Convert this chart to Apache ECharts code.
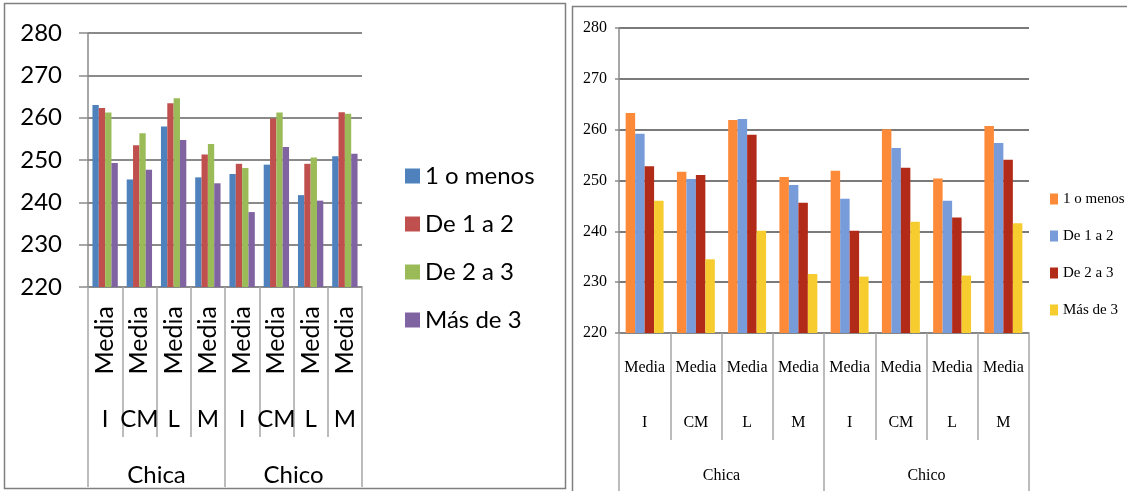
<!DOCTYPE html>
<html>
<head>
<meta charset="utf-8">
<style>
  html, body { margin: 0; padding: 0; background: #ffffff; }
  #chart { width: 1127px; height: 491px; }
</style>
<script src="https://cdn.jsdelivr.net/npm/echarts@6/dist/echarts.min.js"></script>
</head>
<body>
<div id="chart"></div>
<script>
// Category levels of the x axis (innermost first)
const measureLabels = ['Media', 'Media', 'Media', 'Media', 'Media', 'Media', 'Media', 'Media'];
const subjectLabels = ['I', 'CM', 'L', 'M', 'I', 'CM', 'L', 'M'];
const groupLabels = ['Chica', 'Chico'];

// Series names
const seriesNames = ['1 o menos', 'De 1 a 2', 'De 2 a 3', 'Más de 3'];

// Y axis
const yMin = 220;
const yMax = 280;
const yStep = 10;

// Left chart values
const leftUnoOMenos = [263.0, 245.4, 257.9, 245.9, 246.7, 248.9, 241.7, 250.9];
const leftDe1a2 = [262.3, 253.5, 263.4, 251.3, 249.1, 259.8, 249.1, 261.3];
const leftDe2a3 = [261.2, 256.3, 264.6, 253.8, 248.1, 261.2, 250.6, 260.9];
const leftMasDe3 = [249.3, 247.7, 254.7, 244.5, 237.7, 253.1, 240.4, 251.5];

// Right chart values
const rightUnoOMenos = [263.3, 251.7, 261.9, 250.7, 251.9, 260.1, 250.4, 260.7];
const rightDe1a2 = [259.2, 250.3, 262.1, 249.1, 246.4, 256.4, 246.0, 257.4];
const rightDe2a3 = [252.8, 251.1, 259.0, 245.6, 240.1, 252.5, 242.7, 254.1];
const rightMasDe3 = [246.0, 234.5, 240.1, 231.6, 231.1, 241.9, 231.3, 241.6];

const leftColors = ['#4f81bd', '#c0504d', '#9bbb59', '#8064a2'];
const rightColors = ['#fd8a38', '#789bd9', '#b22b18', '#f6cc2f'];

const leftFont = 'Lato, "Open Sans", sans-serif';
const rightFont = '"Liberation Serif", "DejaVu Serif", serif';
const gridColor = '#8a8a8a';
const sepColor = '#a6a6a6';

// Builds the three-level category x axes of one grid
function levelAxes(gridIndex, cfg) {
  return [
    {
      type: 'category', gridIndex, data: measureLabels, position: 'bottom',
      axisLine: { show: true, lineStyle: { color: gridColor, width: 1.5 } },
      axisTick: { show: true, length: cfg.innerTick, lineStyle: { color: sepColor, width: 1.5 } },
      axisLabel: {
        interval: 0, rotate: cfg.rotate, margin: cfg.m1,
        fontFamily: cfg.font, fontSize: cfg.size1, color: '#000'
      }
    },
    {
      type: 'category', gridIndex, data: subjectLabels, position: 'bottom',
      axisLine: { show: false }, axisTick: { show: false },
      axisLabel: { interval: 0, margin: cfg.m2, fontFamily: cfg.font, fontSize: cfg.size, color: '#000' }
    },
    {
      type: 'category', gridIndex, data: groupLabels, position: 'bottom',
      axisLine: { show: false },
      axisTick: { show: true, length: cfg.outerTick, lineStyle: { color: sepColor, width: 1.5 } },
      axisLabel: { interval: 0, margin: cfg.m3, fontFamily: cfg.font, fontSize: cfg.size, color: '#000' }
    }
  ];
}

function valueAxis(gridIndex, cfg) {
  return {
    type: 'value', gridIndex, min: yMin, max: yMax, interval: yStep,
    axisLine: { show: true, lineStyle: { color: gridColor, width: 1.5 } },
    axisTick: { show: true, length: cfg.tick, lineStyle: { color: gridColor, width: 1.5 } },
    splitLine: { show: true, lineStyle: { color: cfg.split, width: 1.8 } },
    axisLabel: { margin: cfg.margin, fontFamily: cfg.font, fontSize: cfg.size, color: '#000' }
  };
}

function barSeries(name, data, color, xAxisIndex, yAxisIndex) {
  return {
    type: 'bar', name, data, xAxisIndex, yAxisIndex,
    barGap: '0%', barCategoryGap: '26%',
    itemStyle: { color },
    emphasis: { disabled: true }
  };
}

const leftData = [leftUnoOMenos, leftDe1a2, leftDe2a3, leftMasDe3];
const rightData = [rightUnoOMenos, rightDe1a2, rightDe2a3, rightMasDe3];

const series = [];
seriesNames.forEach((n, i) => series.push(barSeries(n, leftData[i], leftColors[i], 0, 0)));
seriesNames.forEach((n, i) => series.push(barSeries(n, rightData[i], rightColors[i], 3, 1)));

const option = {
  animation: false,
  backgroundColor: '#ffffff',
  graphic: [
    { type: 'rect', shape: { x: 4.5, y: 3.5, width: 561, height: 485 },
      style: { fill: 'none', stroke: '#7f7f7f', lineWidth: 1.5 }, z: -1 },
    { type: 'rect', shape: { x: 572.5, y: 6.5, width: 560, height: 492 },
      style: { fill: 'none', stroke: '#7f7f7f', lineWidth: 1.5 }, z: -1 }
  ],
  grid: [
    { left: 88, top: 33, width: 274, height: 254 },
    { left: 619, top: 28, width: 410, height: 305 }
  ],
  xAxis: [
    ...levelAxes(0, { rotate: 90, m1: 19, m2: 120, m3: 176, innerTick: 150, outerTick: 200,
                      font: leftFont, size: 24, size1: 25 }),
    ...levelAxes(1, { rotate: 0, m1: 27, m2: 82, m3: 135, innerTick: 107, outerTick: 160,
                      font: rightFont, size: 16, size1: 16 })
  ],
  yAxis: [
    valueAxis(0, { tick: 9, margin: 26, font: leftFont, size: 24, split: '#8a8a8a' }),
    valueAxis(1, { tick: 4, margin: 12, font: rightFont, size: 16, split: '#7a7a7a' })
  ],
  legend: [
    {
      orient: 'vertical', left: 405, top: 164, padding: 0,
      itemWidth: 15, itemHeight: 15, itemGap: 24,
      icon: 'rect', selectedMode: false,
      textStyle: { fontFamily: leftFont, fontSize: 24, lineHeight: 24, color: '#000' },
      data: seriesNames.map((n, i) => ({ name: n, itemStyle: { color: leftColors[i] } }))
    },
    {
      orient: 'vertical', left: 1050, top: 191, padding: 0,
      itemWidth: 8, itemHeight: 11, itemGap: 21, icon: 'rect', selectedMode: false,
      textStyle: { fontFamily: rightFont, fontSize: 15, lineHeight: 16, color: '#000' },
      data: seriesNames.map((n, i) => ({ name: n, itemStyle: { color: rightColors[i] } }))
    }
  ],
  series
};

const chart = echarts.init(document.getElementById('chart'), null, { renderer: 'canvas' });
chart.setOption(option);
</script>
</body>
</html>
